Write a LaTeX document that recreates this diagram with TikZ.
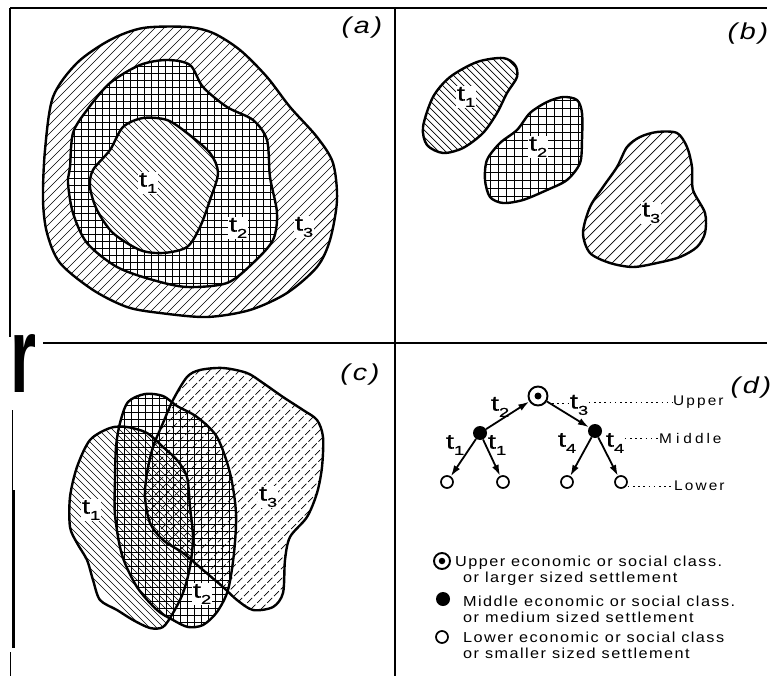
\documentclass[tikz,border=0pt]{standalone}
\usepackage{fontspec}
\usepackage{graphicx}
\setmainfont{Liberation Sans}
\newfontfamily\tfont[FakeStretch=1.4,FakeBold=0.6]{Liberation Sans}
\newfontfamily\lfont[LetterSpace=10,FakeStretch=1.12]{Liberation Sans}
\newfontfamily\kfont[LetterSpace=15,FakeStretch=1.1]{Liberation Sans}
\newfontfamily\pfont[LetterSpace=12,FakeStretch=1.25]{Liberation Sans}
\usetikzlibrary{arrows.meta}
\newcommand\tsub[1]{{\tfont\fontsize{21}{21}\selectfont t\raisebox{-0.3em}{\fontsize{13}{13}\selectfont #1}}}
\newcommand\plab[1]{{\pfont\fontsize{23}{23}\selectfont\itshape (#1)}}
\def\Aiii{plot[smooth cycle] coordinates{(43,200) (45,150) (53,97) (77,63) (110,40) (143,28) (187,27) (213,33) (240,50) (267,77) (290,107) (317,137) (333,163) (337,200) (330,240) (317,267) (287,293) (250,310) (207,317) (160,313) (127,307) (93,290) (60,263) (47,233)}}
\def\Aii{plot[smooth cycle] coordinates{(68,183) (70,167) (73,133) (87,110) (110,83) (140,65) (167,60) (190,65) (203,87) (227,107) (253,120) (267,140) (270,177) (277,213) (273,240) (253,263) (227,283) (187,287) (153,280) (117,267) (87,243) (73,213)}}
\def\Ai{plot[smooth cycle] coordinates{(90,187) (93,170) (110,150) (123,127) (143,118) (167,120) (187,133) (210,153) (218,173) (210,200) (200,227) (187,247) (163,253) (140,250) (113,233) (97,210)}}
\def\Bi{plot[smooth cycle] coordinates{(423,127) (433,97) (450,77) (477,62) (503,58) (515,65) (517,77) (507,93) (497,113) (483,133) (463,148) (443,153) (427,145)}}
\def\Bii{plot[smooth cycle] coordinates{(487,160) (500,143) (517,130) (530,113) (547,102) (563,97) (577,100) (582,113) (582,140) (580,163) (567,180) (547,190) (523,200) (503,203) (490,197) (485,180)}}
\def\Biii{plot[smooth cycle] coordinates{(583,233) (590,207) (603,187) (617,167) (627,147) (640,137) (657,132) (677,133) (687,147) (692,167) (693,190) (705,213) (705,233) (697,247) (680,257) (657,263) (633,267) (610,263) (590,253)}}
\def\Ci{plot[smooth cycle] coordinates{(77,467) (90,440) (110,428) (127,427) (147,433) (163,447) (177,460) (187,477) (190,507) (193,537) (190,567) (183,593) (173,613) (163,627) (150,628) (133,620) (117,610) (100,600) (93,580) (87,560) (77,543) (70,527) (70,497)}}
\def\Cii{plot[smooth cycle] coordinates{(115,480) (116,447) (120,423) (128,402) (145,394) (163,396) (177,406) (197,417) (217,437) (230,473) (236,513) (234,553) (228,590) (217,612) (203,625) (188,627) (173,620) (157,610) (137,587) (122,555) (115,515)}}
\def\Ciii{plot[smooth cycle] coordinates{(173,400) (187,377) (200,370) (223,368) (247,373) (263,383) (283,397) (303,410) (317,420) (323,437) (322,467) (317,493) (307,517) (290,537) (285,560) (283,593) (273,607) (253,610) (237,600) (223,587) (203,570) (183,553) (163,540) (150,523) (145,497) (147,473) (153,447) (163,423)}}
\begin{document}
\begin{tikzpicture}[x=1pt,y=-1pt,
  frame/.style={line width=1.1pt},
  outline/.style={line width=2.4pt,line join=round},
  hatch/.style={line width=0.7pt},
  dhatch/.style={line width=0.7pt,dash pattern=on 7pt off 2.5pt},
  tlabel/.style={fill=white,inner sep=1pt},
  plabel/.style={inner sep=0pt},
  arr/.style={line width=1.8pt,-{Latex[length=11pt,width=7pt]}},
  dots/.style={line width=1pt,dash pattern=on 1.6pt off 3.6pt},
  lev/.style={anchor=west,inner sep=0pt,font=\kfont\fontsize{14}{14}\selectfont},
  leg/.style={anchor=base west,inner sep=0pt,font=\lfont\fontsize{14.5}{14.5}\selectfont},
  fullnode/.style={circle,fill,inner sep=0pt,minimum size=14pt},
  opennode/.style={circle,draw,line width=1.7pt,inner sep=0pt,minimum size=12pt},
  topnode/.style={circle,draw,line width=1.9pt,inner sep=0pt,minimum size=19pt}]
\useasboundingbox (0,0) rectangle (770,676);
% frame
\draw[frame] (10,8) -- (767,8);
\draw[frame] (10,8) -- (10,337);
\draw[frame] (395,8) -- (395,676);
\draw[frame] (43,343) -- (767,343);
\draw[line width=0.8pt] (12,410) -- (12,490);
\draw[line width=3pt] (13,490) -- (13,648);
\draw[line width=0.8pt] (10,652) -- (10,676);
\node[anchor=north west,inner sep=0pt] (rr) at (10,334) {\resizebox{26pt}{58pt}{\fontsize{40}{40}\selectfont\bfseries r}};
% ---------- panel (a)
\begin{scope}
 \clip \Aiii;
 \foreach \c in {120,129,...,640} \draw[hatch] (\c,0) -- (\c-700,700);
\end{scope}
\fill[white] \Aii;
\begin{scope}
 \clip \Aii;
 \foreach \gx in {60,67,...,290} \draw[hatch] (\gx,50) -- (\gx,300);
 \foreach \gy in {52,59,...,300} \draw[hatch] (55,\gy) -- (290,\gy);
\end{scope}
\fill[white] \Ai;
\begin{scope}
 \clip \Ai;
 \foreach \c in {-135,-128,...,75} \draw[hatch] (\c,0) -- (\c+700,700);
\end{scope}
\draw[outline] \Aiii;
\draw[outline] \Aii;
\draw[outline] \Ai;
\node[tlabel] (a1) at (148,183) {\tsub{1}};
\node[tlabel] (a2) at (238,228) {\tsub{2}};
\node[tlabel] (a3) at (304,227) {\tsub{3}};
\node[plabel] (pa) at (362,28) {\plab{a}};
% ---------- panel (b)
\begin{scope}
 \clip \Bi;
 \foreach \c in {280,287,...,465} \draw[hatch] (\c,0) -- (\c+700,700);
\end{scope}
\begin{scope}
 \clip \Bii;
 \foreach \gx in {482,490,...,590} \draw[hatch] (\gx,90) -- (\gx,210);
 \foreach \gy in {92,100,...,210} \draw[hatch] (480,\gy) -- (590,\gy);
\end{scope}
\begin{scope}
 \clip \Biii;
 \foreach \c in {765,775,...,955} \draw[hatch] (\c,0) -- (\c-700,700);
\end{scope}
\draw[outline] \Bi;
\draw[outline] \Bii;
\draw[outline] \Biii;
\node[tlabel] (b1) at (466,97) {\tsub{1}};
\node[tlabel] (b2) at (538,147) {\tsub{2}};
\node[tlabel] (b3) at (651,213) {\tsub{3}};
\node[plabel] (pb) at (748,34) {\plab{b}};
% ---------- panel (c)
\begin{scope}
 \clip \Ci;
 \foreach \c in {-485,-478,...,-280} \draw[hatch] (\c,0) -- (\c+700,700);
\end{scope}
\begin{scope}
 \clip \Cii;
 \foreach \gx in {110,117,...,240} \draw[hatch] (\gx,388) -- (\gx,632);
 \foreach \gy in {391,398,...,632} \draw[hatch] (108,\gy) -- (240,\gy);
\end{scope}
\begin{scope}
 \clip \Ciii;
 \foreach \c in {550,560,...,905} \draw[dhatch] (\c,0) -- (\c-700,700);
\end{scope}
\draw[outline] \Ci;
\draw[outline] \Cii;
\draw[outline] \Ciii;
\node[tlabel] (c1) at (91,510) {\tsub{1}};
\node[tlabel] (c2) at (202,594) {\tsub{2}};
\node[tlabel] (c3) at (268,497) {\tsub{3}};
\node[plabel] (pc) at (360,375) {\plab{c}};
% ---------- panel (d)
\node[plabel] (pd) at (751,388) {\plab{d}};
\node[topnode] (up) at (538,396) {};
\node[circle,fill,inner sep=0pt,minimum size=7pt] (updot) at (up.center) {};
\node[fullnode] (ml) at (480,433) {};
\node[fullnode] (mr) at (595,431) {};
\node[opennode] (l1) at (447,482) {};
\node[opennode] (l2) at (503,482) {};
\node[opennode] (l3) at (567,482) {};
\node[opennode] (l4) at (621,482) {};
\draw[arr] (ml) -- (up);
\draw[arr] (up) -- (mr);
\draw[arr] (ml) -- (l1);
\draw[arr] (ml) -- (l2);
\draw[arr] (mr) -- (l3);
\draw[arr] (mr) -- (l4);
\node[inner sep=0.5pt] (d2) at (500,407) {\tsub{2}};
\node[inner sep=0.5pt] (d3) at (579,405) {\tsub{3}};
\node[inner sep=0.5pt] (d1a) at (455,445) {\tsub{1}};
\node[inner sep=0.5pt] (d1b) at (497,445) {\tsub{1}};
\node[inner sep=0.5pt] (d4a) at (567,443) {\tsub{4}};
\node[inner sep=0.5pt] (d4b) at (615,443) {\tsub{4}};
\node[lev] (upper) at (673,402) {Upper};
\node[lev] (middle) at (659,438) {M\kern4pt i\kern4pt d\kern3pt d\kern3pt l\kern3pt e};
\node[lev] (lower) at (674,486) {Lower};
\coordinate (q3) at (552,403);
\draw[dots] (q3) -- (d3.west |- q3);
\draw[dots] (d3.east |- upper.west) -- (upper.west);
\draw[dots] (d4b.east |- middle.west) -- (middle.west);
\draw[dots] (l4.east |- lower.west) -- ([xshift=-2pt]lower.west);
% legend
\node[topnode,minimum size=16pt] (s1) at (442,561) {};
\node[circle,fill,inner sep=0pt,minimum size=6.5pt] (s1dot) at (s1.center) {};
\node[fullnode] (s2) at (443,599) {};
\node[opennode] (s3) at (442,637) {};
\node[leg] (t1a) at (455,566) {Upper economic or social class.};
\node[leg] (t1b) at (463,582) {or larger sized settlement};
\node[leg] (t2a) at (463,606) {Middle economic or social class.};
\node[leg] (t2b) at (463,622) {or medium sized settlement};
\node[leg] (t3a) at (463,642) {Lower economic or social class};
\node[leg] (t3b) at (463,658) {or smaller sized settlement};
\end{tikzpicture}
\end{document}
